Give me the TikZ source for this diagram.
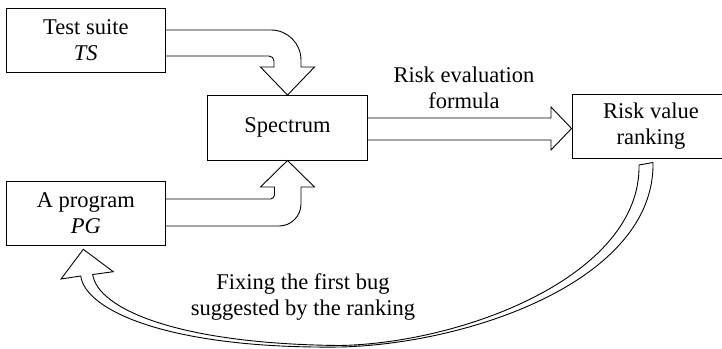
\documentclass[tikz,border=0pt]{standalone}
\usepackage{fontspec}
\setmainfont{Liberation Serif}
\begin{document}
\begin{tikzpicture}[x=1pt,y=-1pt,line width=0.9pt,
  box/.style={draw, inner sep=0pt, align=center, font=\fontsize{22.5}{26}\selectfont},
  blockarrow/.style={draw, line join=miter},
  lbl/.style={inner sep=0pt, align=center, font=\fontsize{22.5}{26}\selectfont}]
\useasboundingbox (0,0) rectangle (722,348);
% boxes
\node[box, minimum width=159.7pt, minimum height=64pt] (ts) at (85.85,40) {Test suite\\\textit{TS}};
\node[box, minimum width=159.7pt, minimum height=63.3pt] (pg) at (85.85,213.35) {A program\\\textit{PG}};
\node[box, minimum width=160pt, minimum height=64.5pt] (spec) at (287.5,127.75) {Spectrum};
\node[box, minimum width=158pt, minimum height=64pt] (risk) at (651,126.5) {Risk value\\ranking};
% labels
\node[lbl] (lform) at (464,88) {Risk evaluation\\formula};
\node[lbl] (lfix) at (303,297) {Fixing the first bug\\suggested by the ranking};
% test suite -> spectrum
\draw[blockarrow] (ts.east |- 0,30) -- (271,30) .. controls (287.6,30) and (301,43.4) .. (301,60)
  -- (301,67) -- (314.5,67) -- (spec.north) -- (260.5,67) -- (274,67) -- (274,61)
  .. controls (274,58.2) and (271.8,56) .. (269,56) -- (ts.east |- 0,56);
% program -> spectrum
\draw[blockarrow] (pg.east |- 0,226) -- (279,226) .. controls (291.1,226) and (301,216.1) .. (301,204)
  -- (301,187) -- (314.5,187) -- (spec.south) -- (260.5,187) -- (274.5,187) -- (274.5,195)
  .. controls (274.5,197.2) and (272.3,199) .. (270.5,199) -- (pg.east |- 0,199);
% spectrum -> risk
\draw[blockarrow] (spec.east |- 0,118) -- (551,118) -- (551,107) -- (risk.west |- 0,128.5)
  -- (551,150) -- (551,140) -- (spec.east |- 0,140);
% risk -> program (return)
\draw[blockarrow] (653,162.5) .. controls (655,280) and (470,344) .. (340,347)
  .. controls (170,349) and (85.6,311) .. (80.7,276) -- (61,279) -- (83.3,249.3)
  -- (113.3,271.7) -- (92.7,274.5) .. controls (97.5,308) and (175,344) .. (340,345.5)
  .. controls (465,343) and (641,275) .. (639,165) -- cycle;
\end{tikzpicture}
\end{document}
